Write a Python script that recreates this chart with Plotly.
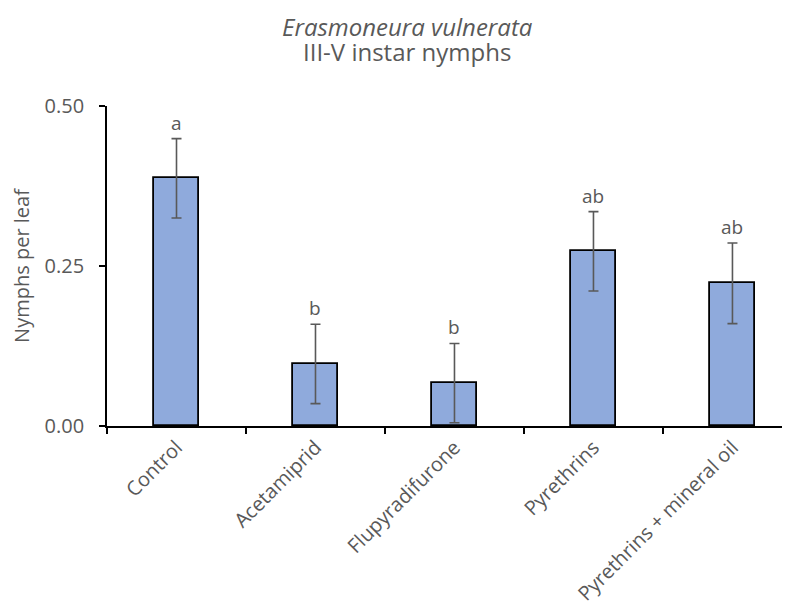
import plotly.graph_objects as go

categories = ["Control", "Acetamiprid", "Flupyradifurone", "Pyrethrins", "Pyrethrins + mineral oil"]
means = [0.387, 0.097, 0.067, 0.273, 0.223]
se = [0.062, 0.062, 0.062, 0.062, 0.063]
letters = ["a", "b", "b", "ab", "ab"]
title_lines = ["<i>Erasmoneura vulnerata</i>", "III-V instar nymphs"]

FONT = "Open Sans, sans-serif"
GRAY = "#595959"

fig = go.Figure()
fig.add_trace(go.Bar(
    x=categories, y=means, width=0.324,
    marker=dict(color="#8FAADC", line=dict(color="black", width=1.8)),
    error_y=dict(type="data", array=se, visible=True, color=GRAY, thickness=1.6, width=5),
    showlegend=False,
))

for c, m, s, l in zip(categories, means, se, letters):
    fig.add_annotation(x=c, y=m + s, text=l, showarrow=False, yanchor="bottom", yshift=1,
                       font=dict(family=FONT, size=19, color=GRAY))

for txt, shift in zip(title_lines, [80, 55]):
    fig.add_annotation(xref="paper", yref="paper", x=(407 - 107) / 683, y=1, yshift=shift,
                       text=txt, showarrow=False, xanchor="center", yanchor="middle",
                       font=dict(family=FONT, size=24, color=GRAY))

fig.update_layout(
    width=790, height=613,
    margin=dict(l=99, r=8, t=98, b=195),
    paper_bgcolor="white", plot_bgcolor="white",
    font=dict(family=FONT, color=GRAY),
    bargap=0,
)
fig.update_xaxes(
    range=[-0.5, 4.414], showline=True, linecolor="black", linewidth=1.8,
    ticks="outside", tickson="boundaries", ticklen=6, tickcolor="black", tickwidth=1.5,
    tickangle=-45, tickfont=dict(family=FONT, size=20, color=GRAY),
    showgrid=False, zeroline=False,
)
fig.update_yaxes(
    range=[0, 0.5], tickvals=[0, 0.25, 0.5], tickformat=".2f",
    showline=True, linecolor="black", linewidth=1.8,
    ticks="outside", ticklen=6, tickcolor="black", tickwidth=1.5,
    tickfont=dict(family=FONT, size=20, color=GRAY), ticklabelstandoff=11,
    title=dict(text="Nymphs per leaf", font=dict(family=FONT, size=20, color=GRAY), standoff=10),
    showgrid=False, zeroline=False,
)

fig.write_html("out.html")
